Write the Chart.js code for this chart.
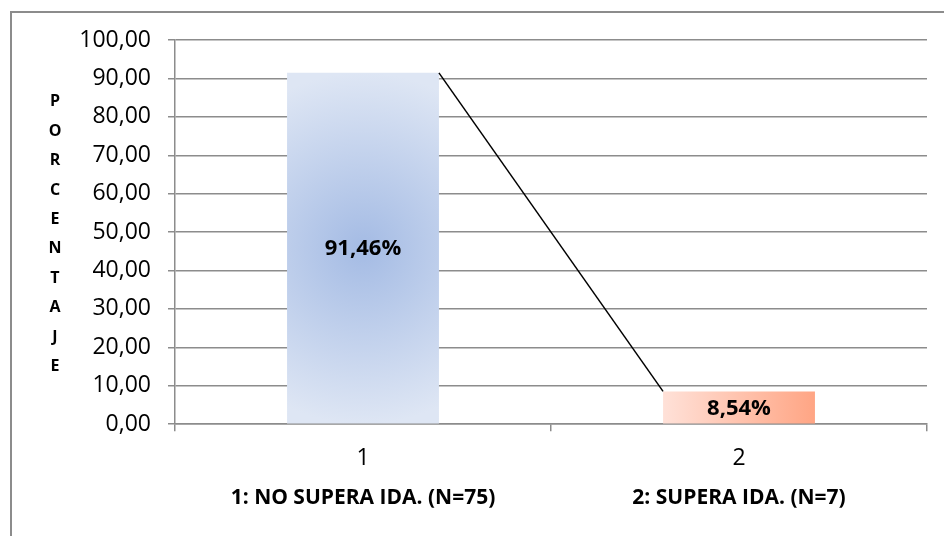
<!DOCTYPE html>
<html>
<head>
<meta charset="utf-8">
<script src="https://cdn.jsdelivr.net/npm/chart.js@4"></script>
<style>
  body { margin: 0; background: #fff; }
  #frame { position: absolute; left: 10px; top: 11px; width: 1000px; height: 600px;
           border-left: 2px solid #8c8c8c; border-top: 2px solid #8c8c8c; }
  #wrap { position: absolute; left: 0; top: 0; width: 944px; height: 536px; }
</style>
</head>
<body>
<div id="frame"></div>
<div id="wrap"><canvas id="chart" width="944" height="536"></canvas></div>
<script>
const categories = ["1", "2"];
const groupNames = ["1: NO SUPERA IDA. (N=75)", "2: SUPERA IDA. (N=7)"];
const percentages = [91.46, 8.54];
const axisTitle = "PORCENTAJE";

const barShare = 0.404;
const gridColor = "#8c8c8c";

const fmt = (v, d) => v.toFixed(d).replace(".", ",");

// gradient fills worked out from the scales
const barFill = (ctx) => {
  const chart = ctx.chart;
  const i = ctx.dataIndex;
  if (!chart.chartArea || i === undefined) return i === 1 ? "#ffc0a8" : "#c0d0ec";
  const xs = chart.scales.x, ys = chart.scales.y;
  const cx = xs.getPixelForValue(i);
  const half = xs.width / categories.length * barShare / 2;
  const top = ys.getPixelForValue(percentages[i]);
  const bottom = ys.getPixelForValue(0);
  const c = chart.ctx;
  if (i === 0) {
    const cy = (top + bottom) / 2;
    const g = c.createRadialGradient(cx, cy, 0, cx, cy, (bottom - top) / 2);
    g.addColorStop(0, "#a4bbe4");
    g.addColorStop(1, "#dee6f4");
    return g;
  }
  const g = c.createLinearGradient(cx - half, 0, cx + half, 0);
  g.addColorStop(0, "#ffe1d8");
  g.addColorStop(1, "#ffa584");
  return g;
};

const extras = {
  id: "extras",
  afterDatasetsDraw(chart) {
    const c = chart.ctx;
    const bars = chart.getDatasetMeta(0).data;
    // line from top-right of bar 1 to top-left of bar 2
    const a = bars[0], b = bars[1];
    c.save();
    c.strokeStyle = "#000";
    c.lineWidth = 1.5;
    c.beginPath();
    c.moveTo(a.x + a.width / 2, a.y);
    c.lineTo(b.x - b.width / 2, b.y);
    c.stroke();

    c.fillStyle = "#000";
    c.font = "bold 22px 'Open Sans'";
    c.textAlign = "center";
    c.textBaseline = "middle";
    bars.forEach((bar, i) => {
      c.fillText(fmt(percentages[i], 2) + "%", bar.x, (bar.y + bar.base) / 2 + 1);
    });

    // stacked axis title
    const area = chart.chartArea;
    const mid = (area.top + area.bottom) / 2 + 2;
    const step = 29.4;
    c.font = "bold 16px 'Open Sans'";
    axisTitle.split("").forEach((ch, k) => {
      c.fillText(ch, 55, mid + (k - (axisTitle.length - 1) / 2) * step);
    });
    c.restore();
  }
};

new Chart(document.getElementById("chart"), {
  type: "bar",
  data: {
    labels: categories,
    datasets: [{
      data: percentages,
      backgroundColor: barFill,
      barPercentage: 1,
      categoryPercentage: barShare,
      borderWidth: 0
    }]
  },
  options: {
    responsive: false,
    animation: false,
    layout: { padding: { left: 0, right: 17, top: 40, bottom: 24 } },
    plugins: { legend: { display: false }, tooltip: { enabled: false } },
    scales: {
      y: {
        min: 0,
        max: 100,
        afterFit: (s) => { s.width = 175; },
        ticks: {
          stepSize: 10,
          padding: 17,
          color: "#000",
          font: { family: "'Open Sans'", size: 23 },
          callback: (v) => fmt(v, 2)
        },
        grid: { color: gridColor, lineWidth: 1.5, tickLength: 7 },
        border: { color: gridColor, width: 1.5 }
      },
      x: {
        ticks: { padding: 13, color: "#000", font: { family: "'Open Sans'", size: 23 } },
        grid: { drawOnChartArea: false, color: gridColor, lineWidth: 1.5, tickLength: 7 },
        border: { color: gridColor, width: 1.5 }
      },
      x2: {
        type: "category",
        position: "bottom",
        labels: groupNames,
        offset: true,
        grid: { display: false, drawTicks: false },
        border: { display: false },
        ticks: { padding: 1, color: "#000", font: { family: "'Open Sans'", size: 21, weight: "bold" } }
      }
    }
  },
  plugins: [extras]
});
</script>
</body>
</html>
